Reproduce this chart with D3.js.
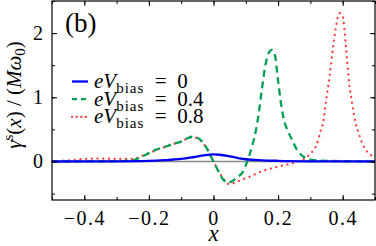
<html><head><meta charset="utf-8"><script src="https://cdn.jsdelivr.net/npm/d3@7"></script></head>
<body style="margin:0">
<script>
// donnees
const xTicks = [-0.4, -0.2, 0, 0.2, 0.4];
const yTicks = [0, 1, 2];
const legendLabels = ["0", "0.4", "0.8"];

const xBias0 = [-0.5, -0.3, -0.2, -0.15, -0.1, -0.06, -0.03, 0, 0.02, 0.05, 0.08, 0.1, 0.15, 0.2, 0.3, 0.4, 0.5];
const yBias0 = [0, 0.002, 0.008, 0.02, 0.04, 0.07, 0.095, 0.11, 0.105, 0.08, 0.05, 0.035, 0.018, 0.01, 0.003, 0.001, 0];

const xBias04 = [-0.5, -0.3, -0.26, -0.24, -0.22, -0.2, -0.18, -0.16, -0.14, -0.12, -0.1, -0.08, -0.065, -0.05, -0.035, -0.02, -0.01, 0, 0.01, 0.02, 0.03, 0.045, 0.06, 0.075, 0.09, 0.1, 0.11, 0.12, 0.13, 0.14, 0.15, 0.16, 0.17, 0.18, 0.19, 0.2, 0.21, 0.22, 0.23, 0.24, 0.26, 0.28, 0.3, 0.35, 0.4, 0.5];
const yBias04 = [0, 0.005, 0.015, 0.035, 0.08, 0.13, 0.18, 0.215, 0.245, 0.28, 0.31, 0.365, 0.385, 0.37, 0.31, 0.2, 0.1, 0, -0.1, -0.2, -0.28, -0.33, -0.3, -0.24, -0.17, -0.06, 0.08, 0.25, 0.45, 0.75, 1.13, 1.48, 1.68, 1.74, 1.66, 1.25, 0.87, 0.61, 0.48, 0.37, 0.17, 0.07, 0.03, 0.01, 0.005, 0];

const xBias08 = [-0.5, -0.47, -0.44, -0.4, -0.35, -0.3, -0.26, -0.24, -0.22, -0.2, -0.18, -0.16, -0.14, -0.12, -0.1, -0.08, -0.065, -0.05, -0.035, -0.02, -0.01, 0, 0.01, 0.02, 0.03, 0.045, 0.06, 0.08, 0.1, 0.12, 0.14, 0.17, 0.2, 0.23, 0.26, 0.28, 0.3, 0.31, 0.32, 0.33, 0.34, 0.35, 0.36, 0.37, 0.38, 0.39, 0.4, 0.41, 0.42, 0.43, 0.44, 0.45, 0.46, 0.47, 0.48, 0.49, 0.5];
const yBias08 = [0, 0.01, 0.02, 0.04, 0.045, 0.04, 0.04, 0.05, 0.09, 0.13, 0.17, 0.21, 0.245, 0.28, 0.31, 0.36, 0.38, 0.36, 0.3, 0.2, 0.1, 0, -0.1, -0.19, -0.26, -0.35, -0.34, -0.3, -0.26, -0.22, -0.17, -0.12, -0.08, -0.045, 0, 0.04, 0.12, 0.18, 0.27, 0.45, 0.62, 1.0, 1.35, 1.77, 2.12, 2.31, 2.26, 1.79, 1.22, 0.88, 0.6, 0.43, 0.29, 0.19, 0.13, 0.09, 0.07];

const police = "\"Liberation Serif\"";
const largeur = 376, hauteur = 246;
const marge = { gauche: 52, droite: 375, haut: 1, bas: 200 };

const svg = d3.select("body").append("svg")
	.attr("width", largeur)
	.attr("height", hauteur);

const x = d3.scaleLinear().domain([-0.5, 0.5]).range([marge.gauche, marge.droite]);
const y = d3.scaleLinear().domain([-0.6, 2.5]).range([marge.bas, marge.haut]);

// ligne zero grise
svg.append("line")
	.attr("x1", x(-0.5)).attr("x2", x(0.5))
	.attr("y1", y(0)).attr("y2", y(0))
	.attr("stroke", "#888").attr("stroke-width", 1.6);

const ligne = d3.line().x(d => x(d[0])).y(d => y(d[1])).curve(d3.curveMonotoneX);

const series = [
	{ xs: xBias08, ys: yBias08, couleur: "#ff4040", dash: "0.1,5.6", cap: "round" },
	{ xs: xBias04, ys: yBias04, couleur: "#00a055", dash: "7,4.5", cap: "butt" },
	{ xs: xBias0, ys: yBias0, couleur: "#0000ee", dash: null, cap: "butt" }
];

series.forEach(s => {
	svg.append("path")
		.datum(s.xs.map((v, i) => [v, s.ys[i]]))
		.attr("d", ligne)
		.attr("fill", "none")
		.attr("stroke", s.couleur)
		.attr("stroke-width", 2.3)
		.attr("stroke-linecap", s.cap)
		.attr("stroke-dasharray", s.dash);
});

// graduations vers l'interieur, sur les quatre cotes
const xMinor = d3.range(-5, 6).map(d => d / 10);
const yMinor = d3.range(-1, 6).map(d => d / 2);

const axeBas = d3.axisBottom(x).tickValues(xTicks).tickSize(-5).tickPadding(11)
	.tickFormat(d => d3.format(".1f")(d).replace("-", "\u2212").replace(/^0\.0$/, "0"));
const axeGauche = d3.axisLeft(y).tickValues(yTicks).tickSize(-5).tickPadding(9).tickFormat(d3.format("d"));

svg.append("g").attr("transform", `translate(0,${marge.bas})`)
	.call(d3.axisBottom(x).tickValues(xMinor).tickSize(-3).tickFormat(""));
svg.append("g").attr("transform", `translate(0,${marge.haut})`)
	.call(d3.axisTop(x).tickValues(xMinor).tickSize(-3).tickFormat(""));
svg.append("g").attr("transform", `translate(${marge.gauche},0)`)
	.call(d3.axisLeft(y).tickValues(yMinor).tickSize(-3).tickFormat(""));
svg.append("g").attr("transform", `translate(${marge.droite},0)`)
	.call(d3.axisRight(y).tickValues(yMinor).tickSize(-3).tickFormat(""));

const gBas = svg.append("g").attr("transform", `translate(0,${marge.bas})`).call(axeBas);
const gGauche = svg.append("g").attr("transform", `translate(${marge.gauche},0)`).call(axeGauche);
svg.append("g").attr("transform", `translate(0,${marge.haut})`)
	.call(d3.axisTop(x).tickValues(xTicks).tickSize(-5).tickFormat(""));
svg.append("g").attr("transform", `translate(${marge.droite},0)`)
	.call(d3.axisRight(y).tickValues(yTicks).tickSize(-5).tickFormat(""));

svg.selectAll(".domain").remove();
svg.selectAll(".tick line").attr("stroke", "#000").attr("stroke-width", 1);
svg.selectAll("g").attr("font-family", null).attr("font-size", null);
svg.selectAll(".tick text")
	.style("font-family", police)
	.style("font-size", "20px")
	.attr("fill", "#000");
gBas.selectAll(".tick text").style("letter-spacing", "1.5px");

// cadre
svg.append("rect")
	.attr("x", marge.gauche).attr("y", marge.haut)
	.attr("width", marge.droite - marge.gauche).attr("height", marge.bas - marge.haut)
	.attr("fill", "none").attr("stroke", "#000").attr("stroke-width", 1.2);

// etiquette (b)
svg.append("text").attr("x", 65).attr("y", 32)
	.style("font-family", police).style("font-size", "27px").text("(b)");

// legende
const couleursLeg = ["#0000ee", "#00a055", "#ff4040"];
const dashLeg = [null, "5,4", "0.1,4.5"];
const capLeg = ["butt", "butt", "round"];
legendLabels.forEach((lab, i) => {
	const yl = 81.5 + i * 17.7;
	svg.append("line")
		.attr("x1", 72).attr("x2", 88).attr("y1", yl).attr("y2", yl)
		.attr("stroke", couleursLeg[i]).attr("stroke-width", 2.3)
		.attr("stroke-linecap", capLeg[i])
		.attr("stroke-dasharray", dashLeg[i]);
	const t = svg.append("text").attr("x", 94).attr("y", yl + 6.5)
		.style("font-family", police).style("font-size", "21px");
	t.append("tspan").style("font-style", "italic").text("eV");
	t.append("tspan").attr("dy", 5).style("font-size", "15px").style("letter-spacing", "1px").text("bias");
	t.append("tspan").attr("dy", -5).text("\u2002=\u2002" + lab);
});

// titre axe y
const ty = svg.append("text")
	.attr("transform", "translate(21,95) rotate(-90)")
	.attr("text-anchor", "middle")
	.style("font-family", police)
	.style("font-size", "21px");
ty.append("tspan").style("font-style", "italic").text("γ");
ty.append("tspan").attr("dy", -8).style("font-size", "15px").text("s");
ty.append("tspan").attr("dy", 8).text("(");
ty.append("tspan").style("font-style", "italic").text("x");
ty.append("tspan").text(") / (");
ty.append("tspan").style("font-style", "italic").text("Mω");
ty.append("tspan").attr("dy", 4).style("font-size", "15px").text("0");
ty.append("tspan").attr("dy", -4).text(")");

// titre axe x
svg.append("text").attr("x", x(0)).attr("y", 241)
	.attr("text-anchor", "middle")
	.style("font-family", police)
	.style("font-size", "23px").style("font-style", "italic").text("x");
</script>
</body></html>
